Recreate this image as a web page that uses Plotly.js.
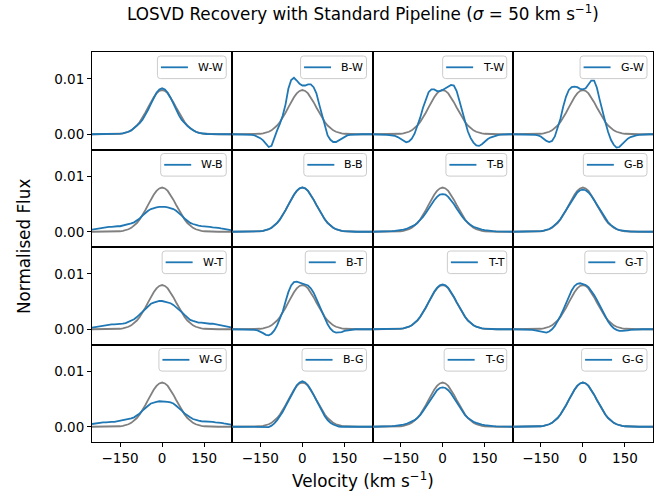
<!DOCTYPE html>
<html>
<head>
<meta charset="utf-8">
<script src="https://cdn.plot.ly/plotly-3.0.1.min.js"></script>
<style>html,body{margin:0;padding:0;background:#fff;}#chart{width:667px;height:495px;}</style>
</head>
<body>
<div id="chart"></div>
<script>
// Velocity grid (km/s)
const velocity = [-250,-240,-230,-220,-210,-200,-190,-180,-170,-160,-150,-140,-130,-120,-110,-100,-90,-80,-70,-60,-50,-40,-30,-20,-10,0,10,20,30,40,50,60,70,80,90,100,110,120,130,140,150,160,170,180,190,200,210,220,230,240,250];

// True LOSVD (grey)
const trueLOSVD = [0,0,0,0,0,0,0,0.00001,0.00002,0.00005,0.00009,0.00016,0.00027,0.00045,0.00071,0.00108,0.00158,0.00222,0.00299,0.00388,0.00484,0.00579,0.00667,0.00737,0.00782,0.00798,0.00782,0.00737,0.00667,0.00579,0.00484,0.00388,0.00299,0.00222,0.00158,0.00108,0.00071,0.00045,0.00027,0.00016,0.00009,0.00005,0.00002,0.00001,0,0,0,0,0,0,0];

// Recovered LOSVDs (blue), named template-galaxy
const WW = [0,0,0,0,0,0,0,0,0.00002,0.00005,0.0001,0.00016,0.00027,0.00045,0.0007,0.0011,0.0015,0.0020,0.0026,0.0034,0.0044,0.0055,0.0066,0.0075,0.0081,0.0083,0.0081,0.0075,0.0066,0.0055,0.0044,0.0034,0.0026,0.0020,0.0015,0.0011,0.0007,0.00045,0.00027,0.00016,0.0001,0.00005,0.00002,0,0,0,0,0,0,0,0];
const BW = [0,0,0,0,0,0,-0.00005,-0.0001,-0.0002,-0.0004,-0.0007,-0.0011,-0.0017,-0.0023,-0.0021,-0.0006,0.0007,0.0019,0.0034,0.0054,0.0082,0.0098,0.0102,0.0097,0.0091,0.0088,0.0088,0.0090,0.0090,0.0085,0.0074,0.0054,0.0036,0.0015,-0.0002,-0.0010,-0.0014,-0.0014,-0.0011,-0.0007,-0.0004,-0.0002,-0.0001,-0.00005,0,0,0,0,0,0,0];
const TW = [0,0,0,-0.00005,-0.00008,-0.0001,-0.00015,-0.0002,-0.0003,-0.0005,-0.0008,-0.0012,-0.00145,-0.0013,-0.0008,0.0001,0.0014,0.0030,0.0048,0.0064,0.0076,0.0081,0.0081,0.0078,0.0078,0.0080,0.0083,0.0087,0.0089,0.0088,0.0078,0.0060,0.0040,0.0021,0.0005,-0.0007,-0.0015,-0.0020,-0.0021,-0.0018,-0.0013,-0.0009,-0.0006,-0.0004,-0.0002,-0.0001,-0.00005,0,0,0,0];
const GW = [0,0,0,0,0,0,0,-0.00005,-0.0001,-0.0002,-0.0004,-0.0008,-0.0012,-0.0014,-0.0012,-0.0004,0.0010,0.0028,0.0050,0.0068,0.0080,0.0085,0.0086,0.0085,0.0082,0.0081,0.0083,0.0090,0.0097,0.0097,0.0084,0.0062,0.0040,0.0022,0.0004,-0.0010,-0.0019,-0.0024,-0.0023,-0.0018,-0.0012,-0.0008,-0.0005,-0.0003,-0.0002,-0.0001,-0.00005,0,0,0,0];
const WB = [0.0004,0.0005,0.0006,0.0007,0.0008,0.0008,0.0009,0.0009,0.0010,0.0010,0.0010,0.0011,0.0012,0.0013,0.0015,0.0017,0.0020,0.0024,0.0029,0.0034,0.0038,0.0041,0.0043,0.0044,0.00448,0.0045,0.00448,0.0044,0.0043,0.0041,0.0038,0.0034,0.0029,0.0024,0.0020,0.0016,0.0014,0.0012,0.0011,0.0010,0.0010,0.0009,0.0009,0.0008,0.0008,0.0007,0.0006,0.0005,0.0004,0.0003,0.00025];
const BB = [0,0,0,0,0,0,0,0.00001,0.00003,0.00005,0.0001,0.00017,0.00028,0.00046,0.00072,0.0011,0.0016,0.00224,0.003,0.0039,0.00485,0.0058,0.00668,0.00738,0.00784,0.0080,0.00784,0.00738,0.00668,0.0058,0.00485,0.0039,0.003,0.00224,0.0016,0.0011,0.00072,0.00046,0.00028,0.00017,0.0001,0.00005,0.00003,0.00001,0,0,0,0,0,0,0];
const TB = [0,0,0,0.00002,0.00003,0.00005,0.00007,0.0001,0.00015,0.0002,0.0003,0.0004,0.0005,0.0007,0.0009,0.0012,0.0016,0.0021,0.0027,0.0034,0.0042,0.0050,0.0057,0.0063,0.0067,0.0068,0.0067,0.0063,0.0057,0.0050,0.0042,0.0034,0.0027,0.0021,0.0016,0.0012,0.0009,0.0007,0.0005,0.0004,0.0003,0.0002,0.00015,0.0001,0.00007,0.00005,0.00003,0.00002,0,0,0];
const GB = [0,0,0,0,0,0,0,0.00002,0.00003,0.00006,0.0001,0.0002,0.0003,0.0005,0.0008,0.0012,0.0017,0.0023,0.0031,0.0039,0.0048,0.0057,0.0065,0.0071,0.0075,0.0076,0.0075,0.0071,0.0065,0.0057,0.0048,0.0039,0.0031,0.0023,0.0017,0.0012,0.0008,0.0005,0.0003,0.0002,0.0001,0.00006,0.00003,0.00002,0,0,0,0,0,0,0];
const WT = [0.0003,0.0004,0.0005,0.0006,0.0007,0.0008,0.0008,0.0009,0.0009,0.0009,0.0010,0.0010,0.0011,0.0013,0.0015,0.0018,0.0022,0.0027,0.0032,0.0037,0.0042,0.0046,0.0048,0.0050,0.0051,0.0051,0.0050,0.0049,0.0047,0.0044,0.0040,0.0036,0.0031,0.0026,0.0021,0.0017,0.0015,0.0013,0.0012,0.0012,0.0011,0.0011,0.0010,0.0010,0.0009,0.0008,0.0007,0.0006,0.0005,0.0004,0.0003];
const BT = [0,0,0,0,0,0,0,-0.00005,-0.0001,-0.0002,-0.0004,-0.0007,-0.0010,-0.0011,-0.0008,-0.0002,0.0007,0.0018,0.0032,0.0050,0.0067,0.0079,0.0085,0.0086,0.0084,0.0082,0.0081,0.0079,0.0074,0.0066,0.0055,0.0043,0.0031,0.0019,0.0009,0.0001,-0.0004,-0.0006,-0.0006,-0.0005,-0.0003,-0.0002,-0.0001,-0.00005,0,0,0,0,0,0,0];
const TT = [0,0,0,0,0,0,0,0.00001,0.00002,0.00005,0.0001,0.00017,0.00028,0.00046,0.00072,0.0011,0.0016,0.00225,0.00303,0.00393,0.0049,0.00587,0.00676,0.00747,0.00793,0.0081,0.00793,0.00747,0.00676,0.00587,0.0049,0.00393,0.00303,0.00225,0.0016,0.0011,0.00072,0.00046,0.00028,0.00017,0.0001,0.00005,0.00002,0.00001,0,0,0,0,0,0,0];
const GT = [0,0,0,0,0,0,-0.00005,-0.0001,-0.0002,-0.0003,-0.0005,-0.0006,-0.0006,-0.0004,0.0000,0.0006,0.0014,0.0024,0.0035,0.0047,0.0059,0.0070,0.0078,0.0082,0.0083,0.0082,0.0080,0.0076,0.0070,0.0062,0.0053,0.0043,0.0033,0.0023,0.0014,0.0007,0.0002,-0.0001,-0.0003,-0.0003,-0.0003,-0.0002,-0.0001,-0.00005,0,0,0,0,0,0,0];
const WG = [0.0005,0.0006,0.0006,0.0007,0.0008,0.0008,0.0009,0.0009,0.0009,0.0010,0.0010,0.0011,0.0012,0.0013,0.0015,0.0017,0.0020,0.0024,0.0029,0.0034,0.0038,0.0042,0.0044,0.0045,0.0046,0.0046,0.0046,0.0045,0.0044,0.0042,0.0038,0.0034,0.0029,0.0024,0.0020,0.0017,0.0014,0.0012,0.0011,0.0010,0.0010,0.0009,0.0009,0.0009,0.0008,0.0008,0.0007,0.0006,0.0005,0.0004,0.00035];
const BG = [0,0,0,0,0,0,0,0,0,-0.00002,-0.00005,-0.0001,-0.0001,-0.00005,0.0002,0.0006,0.0012,0.0019,0.0027,0.0037,0.0047,0.0057,0.0067,0.0075,0.0080,0.0082,0.0080,0.0075,0.0067,0.0057,0.0047,0.0037,0.0027,0.0019,0.0012,0.0007,0.0004,0.0002,0.00005,0,-0.00002,-0.00002,0,0,0,0,0,0,0,0,0];
const TG = [0,0,0,0.00002,0.00003,0.00005,0.00007,0.0001,0.00015,0.0002,0.0003,0.0004,0.0005,0.0007,0.0009,0.0012,0.0016,0.0021,0.0028,0.0036,0.0044,0.0052,0.0060,0.0066,0.0070,0.0071,0.0070,0.0066,0.0060,0.0052,0.0044,0.0036,0.0028,0.0021,0.0016,0.0012,0.0009,0.0007,0.0005,0.0004,0.0003,0.0002,0.00015,0.0001,0.00007,0.00005,0.00003,0.00002,0,0,0];
const GG = [0,0,0,0,0,0,0,0.00001,0.00002,0.00005,0.00009,0.00016,0.00027,0.00045,0.00071,0.00108,0.00158,0.00222,0.00299,0.00388,0.00484,0.00579,0.00667,0.00737,0.00782,0.00798,0.00782,0.00737,0.00667,0.00579,0.00484,0.00388,0.00299,0.00222,0.00158,0.00108,0.00071,0.00045,0.00027,0.00016,0.00009,0.00005,0.00002,0.00001,0,0,0,0,0,0,0];

// Panel labels: columns = template, rows = galaxy
const colNames = ['W','B','T','G'];
const rowNames = ['W','B','T','G'];
const recovered = [
  [WW, BW, TW, GW],
  [WB, BB, TB, GB],
  [WT, BT, TT, GT],
  [WG, BG, TG, GG]
];
const xTicks = [-150, 0, 150];
const xTickText = ['\u2212150', '0', '150'];
const yTicks = [0, 0.01];
const yTickText = ['0.00', '0.01'];

const FONT = 'DejaVu Sans, sans-serif';
const W = 667, H = 495;
const M = {l: 92, r: 14, t: 52, b: 53};
const PW = W - M.l - M.r, PH = H - M.t - M.b;
const BLUE = '#1f77b4';
const LEG_FS = 11;

// text measurement for legend box sizing
const cv = document.createElement('canvas').getContext('2d');
cv.font = LEG_FS + 'px "DejaVu Sans"';
const px2x = px => (px - M.l) / PW;        // page px -> paper x
const py2y = py => 1 - (py - M.t) / PH;    // page px -> paper y

function roundRectPath(x0, y0, x1, y1, rad) {
  // pixel coords -> paper path
  const P = (x, y) => px2x(x).toFixed(5) + ',' + py2y(y).toFixed(5);
  return 'M' + P(x0 + rad, y0) + ' L' + P(x1 - rad, y0) + ' Q' + P(x1, y0) + ' ' + P(x1, y0 + rad) +
    ' L' + P(x1, y1 - rad) + ' Q' + P(x1, y1) + ' ' + P(x1 - rad, y1) +
    ' L' + P(x0 + rad, y1) + ' Q' + P(x0, y1) + ' ' + P(x0, y1 - rad) +
    ' L' + P(x0, y0 + rad) + ' Q' + P(x0, y0) + ' ' + P(x0 + rad, y0) + ' Z';
}

const traces = [];
const shapes = [];
const annotations = [
  {text: 'Velocity (km s<sup>\u22121</sup>)', xref: 'paper', yref: 'paper', x: (363 - M.l) / PW, y: -(480 - (H - M.b)) / PH,
   xanchor: 'center', yanchor: 'middle', showarrow: false, font: {family: FONT, size: 16.8, color: '#000'}},
  {text: 'Normalised Flux', xref: 'paper', yref: 'paper', x: -(M.l - 24) / PW, y: 0.5, textangle: -90,
   xanchor: 'center', yanchor: 'middle', showarrow: false, font: {family: FONT, size: 16.8, color: '#000'}}
];
const layout = {
  width: W, height: H,
  margin: {l: M.l, r: M.r, t: M.t, b: M.b, pad: 0},
  paper_bgcolor: '#fff', plot_bgcolor: '#fff',
  font: {family: FONT, size: 13.5, color: '#000'},
  title: {
    text: 'LOSVD Recovery with Standard Pipeline (<i>\u03c3</i> = 50 km s<sup>\u22121</sup>)',
    font: {family: FONT, size: 16.8, color: '#000'},
    xref: 'container', yref: 'container', x: 363 / W, xanchor: 'center', y: 1 - 14 / H, yanchor: 'middle'
  },
  showlegend: false,
  shapes: shapes,
  annotations: annotations
};

for (let r = 0; r < 4; r++) {
  for (let c = 0; c < 4; c++) {
    const i = r * 4 + c + 1;
    const xa = i === 1 ? 'x' : 'x' + i;
    const ya = i === 1 ? 'y' : 'y' + i;
    const label = colNames[c] + '-' + rowNames[r];
    traces.push({x: velocity, y: trueLOSVD, xaxis: xa, yaxis: ya, type: 'scatter', mode: 'lines',
      line: {color: '#808080', width: 1.8}, hoverinfo: 'skip'});
    traces.push({x: velocity, y: recovered[r][c], xaxis: xa, yaxis: ya, type: 'scatter', mode: 'lines',
      name: label, line: {color: BLUE, width: 1.8}});
    const bottom = r === 3, left = c === 0;
    layout['xaxis' + (i === 1 ? '' : i)] = {
      domain: [c / 4, (c + 1) / 4], anchor: ya, range: [-250, 250],
      tickvals: xTicks, ticktext: xTickText, showticklabels: bottom, ticks: bottom ? 'outside' : '',
      ticklen: 4, tickwidth: 1, tickcolor: '#000', tickfont: {family: FONT, size: 13.5, color: '#000'},
      showline: true, mirror: true, linecolor: '#000', linewidth: 1, showgrid: false, zeroline: false, fixedrange: true
    };
    layout['yaxis' + (i === 1 ? '' : i)] = {
      domain: [1 - (r + 1) / 4, 1 - r / 4], anchor: xa, range: [-0.00275, 0.01485],
      tickvals: yTicks, ticktext: yTickText, showticklabels: left, ticks: left ? 'outside' : '',
      ticklen: 4, tickwidth: 1, tickcolor: '#000', tickfont: {family: FONT, size: 13.5, color: '#000'},
      showline: true, mirror: true, linecolor: '#000', linewidth: 1, showgrid: false, zeroline: false, fixedrange: true
    };
    // legend box (upper right of each panel)
    const panelRight = M.l + (c + 1) * PW / 4;
    const panelTop = M.t + r * PH / 4;
    const tw = cv.measureText(label).width;
    const bx1 = panelRight - 6, bx0 = bx1 - (tw + 44);
    const by0 = panelTop + 4, by1 = by0 + 22.6;
    const ym = (by0 + by1) / 2;
    shapes.push({type: 'path', xref: 'paper', yref: 'paper', layer: 'above',
      path: roundRectPath(bx0, by0, bx1, by1, 3),
      fillcolor: 'rgba(255,255,255,0.8)', line: {color: '#cccccc', width: 1}});
    shapes.push({type: 'line', xref: 'paper', yref: 'paper', layer: 'above',
      x0: px2x(bx0 + 3.5), x1: px2x(bx0 + 30.5), y0: py2y(ym), y1: py2y(ym),
      line: {color: BLUE, width: 1.8}});
    annotations.push({text: label, xref: 'paper', yref: 'paper', x: px2x(bx0 + 38.5), y: py2y(ym),
      xanchor: 'left', yanchor: 'middle', showarrow: false, font: {family: FONT, size: LEG_FS, color: '#000'}});
  }
}

Plotly.newPlot('chart', traces, layout, {displayModeBar: false, staticPlot: true});
</script>
</body>
</html>
